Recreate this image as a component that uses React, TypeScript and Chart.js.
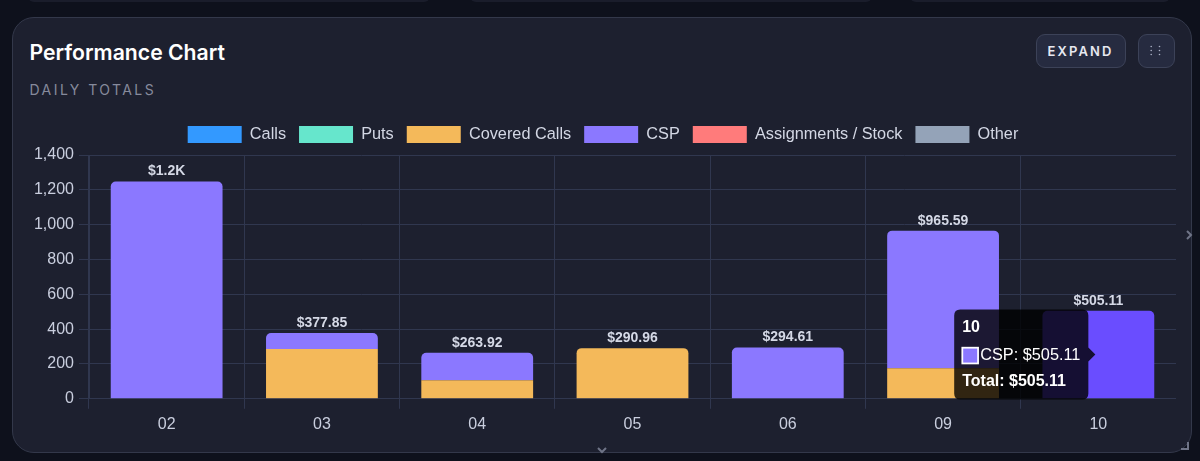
import { useEffect, useRef } from 'react';
import Chart, { Tooltip } from 'chart.js/auto';

const DAYS = ['02', '03', '04', '05', '06', '09', '10'];
const CALLS = [0, 0, 0, 0, 0, 0, 0];
const PUTS = [0, 0, 0, 0, 0, 0, 0];
const COVERED_CALLS = [0, 286, 107, 290.96, 0, 176, 0];
const CSP = [1248, 91.85, 156.92, 0, 294.61, 789.59, 505.11];
const ASSIGNMENTS = [0, 0, 0, 0, 0, 0, 0];
const OTHER = [0, 0, 0, 0, 0, 0, 0];

const FONT = '"Liberation Sans", Arial, sans-serif';
const GRID = '#30374f';

const money = (v: number) =>
  v >= 1000 ? `$${(v / 1000).toFixed(1)}K` : `$${v.toFixed(2)}`;

const seriesList = [
  { label: 'Calls', data: CALLS, color: '#3399ff' },
  { label: 'Puts', data: PUTS, color: '#66e6cc' },
  { label: 'Covered Calls', data: COVERED_CALLS, color: '#f4b95a' },
  { label: 'CSP', data: CSP, color: '#8b78ff', hover: '#6a4dff' },
  { label: 'Assignments / Stock', data: ASSIGNMENTS, color: '#ff7b7b' },
  { label: 'Other', data: OTHER, color: '#94a3b8' },
];

const dayTotal = (i: number) => seriesList.reduce((sum, s) => sum + s.data[i], 0);

// tooltip points at the middle of the hovered bar
(Tooltip.positioners as any).barCenter = (items: any[]) => {
  if (!items.length) return false;
  const el = items[0].element;
  return { x: el.x, y: (el.y + el.base) / 2 };
};

// a little more room under the legend
const legendGapPlugin = {
  id: 'legendGap',
  beforeInit(chart: any) {
    const fit = chart.legend.fit;
    chart.legend.fit = function () {
      fit.call(this);
      this.height += 2;
    };
  },
};

// totals above each stack
const totalsPlugin = {
  id: 'totals',
  afterDatasetsDraw(chart: any) {
    const { ctx, scales } = chart;
    ctx.save();
    ctx.font = `bold 14px ${FONT}`;
    ctx.fillStyle = '#d5d9e6';
    ctx.textAlign = 'center';
    ctx.textBaseline = 'bottom';
    DAYS.forEach((_, i) => {
      const total = dayTotal(i);
      ctx.fillText(money(total), scales.x.getPixelForValue(i), scales.y.getPixelForValue(total) - 3);
    });
    ctx.restore();
  },
};

function PerformanceChart() {
  const canvasRef = useRef<HTMLCanvasElement>(null);

  useEffect(() => {
    if (!canvasRef.current) return;

    const chart = new Chart(canvasRef.current, {
      type: 'bar',
      data: {
        labels: DAYS,
        datasets: seriesList.map((s, dsIndex) => ({
          label: s.label,
          data: s.data,
          backgroundColor: s.color,
          hoverBackgroundColor: s.hover ?? s.color,
          borderWidth: 0,
          borderSkipped: false,
          borderRadius: (ctx: any) => {
            // only the top segment of a stack gets rounded corners
            const i = ctx.dataIndex;
            const isTop = s.data[i] > 0 && !seriesList.slice(dsIndex + 1).some((o) => o.data[i] > 0);
            return isTop ? { topLeft: 5, topRight: 5, bottomLeft: 0, bottomRight: 0 } : 0;
          },
        })),
      },
      plugins: [legendGapPlugin, totalsPlugin],
      options: {
        responsive: false,
        animation: false,
        font: { family: FONT },
        scales: {
          x: {
            stacked: true,
            grid: { color: GRID, tickLength: 10 },
            border: { color: GRID },
            ticks: { color: '#c9cede', font: { family: FONT, size: 16 }, padding: 6 },
          },
          y: {
            stacked: true,
            min: 0,
            max: 1400,
            afterFit: (scale: any) => {
              scale.width = 59;
            },
            grid: { color: GRID, tickLength: 10 },
            border: { color: GRID },
            ticks: {
              stepSize: 200,
              color: '#c9cede',
              font: { family: FONT, size: 16 },
              padding: 5,
            },
          },
        },
        plugins: {
          legend: {
            position: 'top',
            labels: {
              boxWidth: 54,
              boxHeight: 17,
              color: '#d3d7e4',
              font: { family: FONT, size: 16.3 },
              padding: 13,
            },
          },
          tooltip: {
            position: 'barCenter',
            backgroundColor: 'rgba(0,0,0,0.8)',
            titleFont: { family: FONT, size: 16, weight: 'bold' },
            bodyFont: { family: FONT, size: 16.3 },
            footerFont: { family: FONT, size: 16, weight: 'bold' },
            titleColor: '#fff',
            bodyColor: '#fff',
            footerColor: '#fff',
            titleMarginBottom: 9,
            footerMarginTop: 7,
            padding: 8,
            cornerRadius: 6,
            caretSize: 7,
            caretPadding: 3,
            boxWidth: 16,
            boxHeight: 16,
            xAlign: 'right',
            yAlign: 'center',
            callbacks: {
              label: (item: any) => `${item.dataset.label}: ${money(item.raw)}`,
              labelColor: () => ({
                borderColor: '#ffffff',
                backgroundColor: '#8b78ff',
                borderWidth: 1.5,
              }),
              footer: (items: any[]) => `Total: ${money(dayTotal(items[0].dataIndex))}`,
            },
          },
        },
      } as any,
    });

    // the reference is photographed with the last CSP bar hovered
    const active = [{ datasetIndex: 3, index: 6 }];
    chart.setActiveElements(active);
    chart.tooltip?.setActiveElements(active, { x: 0, y: 0 });
    chart.render();

    return () => chart.destroy();
  }, []);

  return (
    <canvas
      ref={canvasRef}
      width={1146}
      height={327}
      style={{ position: 'absolute', left: 16.5, top: 94.5, width: 1146, height: 327 }}
    />
  );
}

const buttonStyle = {
  position: 'absolute',
  top: 15.5,
  height: 34,
  boxSizing: 'border-box',
  border: '1.5px solid #3c4258',
  borderRadius: 9,
  background: '#262b40',
} as const;

export default function App() {
  return (
    <div style={{ position: 'fixed', inset: 0, background: '#0e111c', overflow: 'hidden', fontFamily: 'Inter, sans-serif' }}>
      {[[28, 402], [470, 402], [910, 260]].map(([left, width]) => (
        <div key={left} style={{ position: 'absolute', left, width, top: -10, height: 12, background: '#1a1d2b', borderRadius: 10 }} />
      ))}
      <div
        style={{
          position: 'absolute',
          left: 12,
          top: 17,
          width: 1180,
          height: 436,
          boxSizing: 'border-box',
          background: '#1d202f',
          border: '1.5px solid #33384a',
          borderRadius: 22,
        }}
      >
        <div style={{ position: 'absolute', left: 16.5, top: 21, fontSize: 21.2, fontWeight: 600, color: '#fff', lineHeight: '26px' }}>
          Performance Chart
        </div>
        <div style={{ position: 'absolute', left: 16.5, top: 63, fontSize: 14, color: '#868a9c', letterSpacing: 2.45, lineHeight: '18px' }}>
          DAILY TOTALS
        </div>
        <div
          style={{
            ...buttonStyle,
            left: 1022.5,
            width: 90,
            color: '#e6e8f0',
            fontSize: 13,
            fontWeight: 600,
            letterSpacing: 2.1,
            textAlign: 'center',
            lineHeight: '33px',
          }}
        >
          EXPAND
        </div>
        <div style={{ ...buttonStyle, left: 1124.5, width: 37 }}>
          <svg width="34" height="31" style={{ display: 'block' }}>
            {[12.2, 20.5].map((x) =>
              [11.5, 15.5, 19.5].map((y) => <circle key={`${x}-${y}`} cx={x} cy={y} r="0.8" fill="#aab0c4" />),
            )}
          </svg>
        </div>
        <PerformanceChart />
      </div>
      <svg width="1200" height="461" style={{ position: 'absolute', left: 0, top: 0, pointerEvents: 'none' }}>
        <path d="M1187 231l4 4-4 4" fill="none" stroke="#6f7487" strokeWidth="2" />
        <path d="M598 448l4 4 4-4" fill="none" stroke="#6f7487" strokeWidth="2" />
        <path d="M1181 449h7v-7" fill="none" stroke="#6f7487" strokeWidth="2" />
      </svg>
    </div>
  );
}
